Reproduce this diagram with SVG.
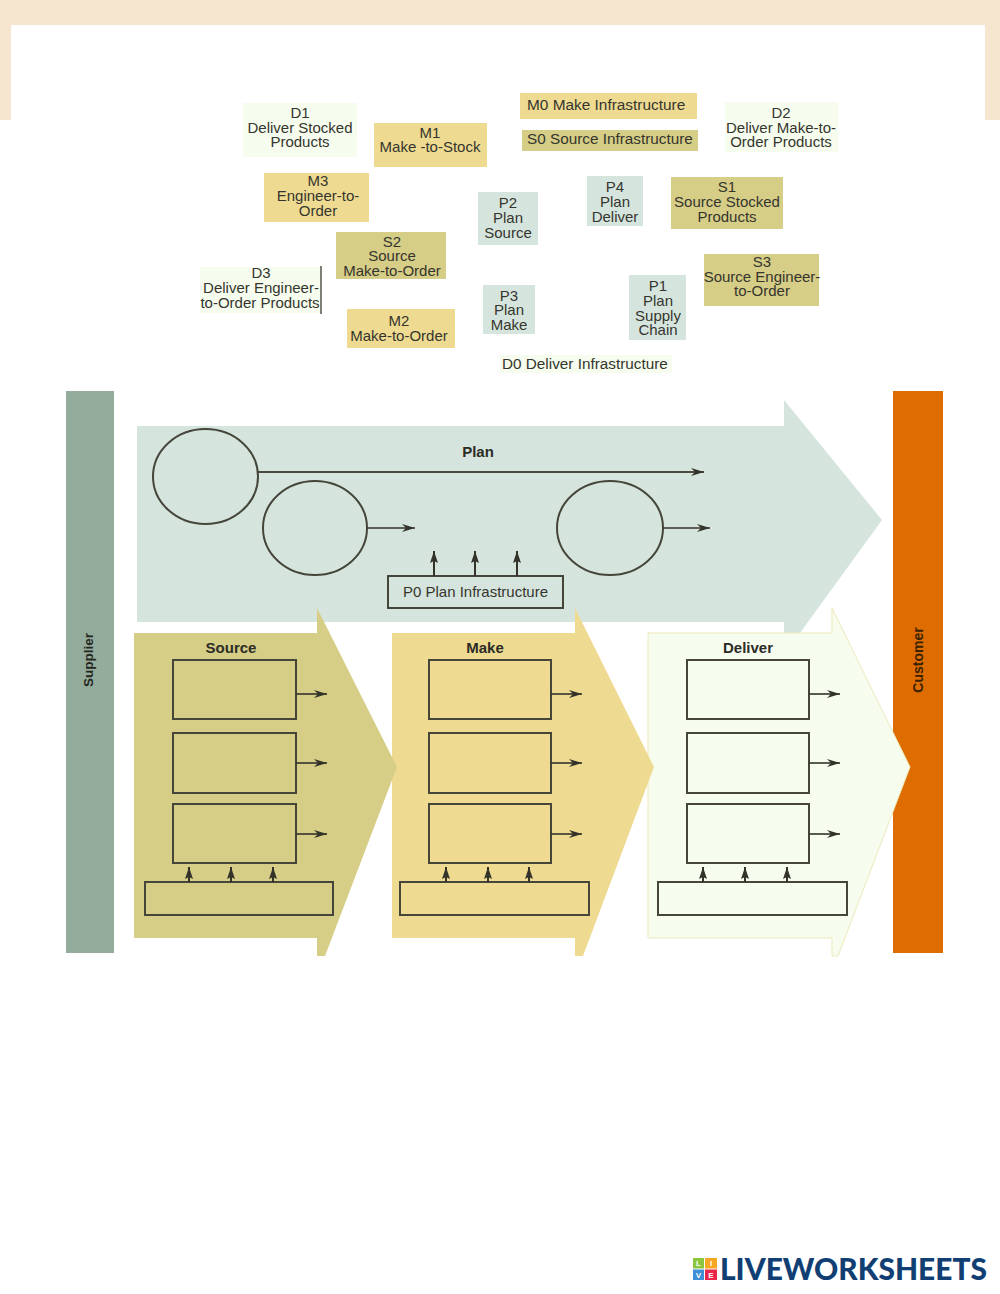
<svg xmlns="http://www.w3.org/2000/svg" width="1000" height="1294" viewBox="0 0 1000 1294">
<defs>
<marker id="ah" markerUnits="userSpaceOnUse" markerWidth="14" markerHeight="10" refX="13" refY="5" orient="auto"><path d="M0,1 L13,5 L0,9 L4,5 Z" fill="#33332a"/></marker>
<marker id="au" markerUnits="userSpaceOnUse" markerWidth="13" markerHeight="10" refX="12" refY="5" orient="auto"><path d="M0,1 L12,5 L0,9 L2,5 Z" fill="#33332a"/></marker>
</defs>
<style>
text{font-family:"Liberation Sans",Arial,sans-serif;fill:#35352e}
.t{font-size:15px;text-anchor:middle}
.l{font-size:15.300px}
.h{font-size:15px;font-weight:bold;text-anchor:middle;fill:#2c2c26}
.v{font-weight:bold;text-anchor:middle}
.src{fill:#d6cd86}.mk{fill:#eedb91}.dl{fill:#f6fdee}.pl{fill:#d5e5de}
.box{stroke:#45453a;stroke-width:2}
.cn{stroke:#33332a;stroke-width:1.600;fill:none}
.ar{marker-end:url(#ah)}
.up{marker-end:url(#au);stroke-width:2}
</style>
<rect width="1000" height="1294" fill="#fff"/>
<g id="page-frame">
<rect x="0" y="0" width="1000" height="25" fill="#f6e5cf"/>
<rect x="0" y="25" width="11" height="95" fill="#f6e5cf"/>
<rect x="985" y="25" width="15" height="95" fill="#f6e5cf"/>
</g>

<g id="D1"><rect class="dl" x="243" y="103" width="114" height="54"/><text class="t"><tspan x="300" y="118">D1</tspan><tspan x="300" y="133">Deliver Stocked</tspan><tspan x="300" y="147">Products</tspan></text></g>
<g id="M1"><rect class="mk" x="374" y="123" width="113" height="44"/><text class="t"><tspan x="430" y="138">M1</tspan><tspan x="430" y="152">Make -to-Stock</tspan></text></g>
<g id="M0"><rect class="mk" x="520" y="93" width="177" height="26"/><text class="l" x="527" y="110" style="font-size:15.400px">M0 Make Infrastructure</text></g>
<g id="S0"><rect class="src" x="522" y="130" width="176" height="21"/><text class="l" x="527" y="144">S0 Source Infrastructure</text></g>
<g id="D2"><rect class="dl" x="725" y="102" width="113" height="50"/><text class="t"><tspan x="781" y="118">D2</tspan><tspan x="781" y="133">Deliver Make-to-</tspan><tspan x="781" y="147">Order Products</tspan></text></g>
<g id="M3"><rect class="mk" x="264" y="173" width="105" height="49"/><text class="t"><tspan x="318" y="186">M3</tspan><tspan x="318" y="201">Engineer-to-</tspan><tspan x="318" y="216">Order</tspan></text></g>
<g id="P2"><rect class="pl" x="478" y="192" width="60" height="53"/><text class="t"><tspan x="508" y="208">P2</tspan><tspan x="508" y="223">Plan</tspan><tspan x="508" y="238">Source</tspan></text></g>
<g id="P4"><rect class="pl" x="587" y="176" width="56" height="50"/><text class="t"><tspan x="615" y="192">P4</tspan><tspan x="615" y="207">Plan</tspan><tspan x="615" y="222">Deliver</tspan></text></g>
<g id="S1"><rect class="src" x="671" y="177" width="112" height="52"/><text class="t"><tspan x="727" y="192">S1</tspan><tspan x="727" y="207">Source Stocked</tspan><tspan x="727" y="222">Products</tspan></text></g>
<g id="S2"><rect class="src" x="336" y="232" width="110" height="47"/><text class="t"><tspan x="392" y="247">S2</tspan><tspan x="392" y="261">Source</tspan><tspan x="392" y="276">Make-to-Order</tspan></text></g>
<g id="S3"><rect class="src" x="704" y="254" width="115" height="52"/><text class="t"><tspan x="762" y="267">S3</tspan><tspan x="762" y="282">Source Engineer-</tspan><tspan x="762" y="296">to-Order</tspan></text></g>
<g id="D3"><rect class="dl" x="200" y="267" width="120" height="46"/><path d="M321 266V314" stroke="#55554a" stroke-width="1.500"/><text class="t"><tspan x="261" y="278">D3</tspan><tspan x="261" y="293">Deliver Engineer-</tspan><tspan x="260" y="308">to-Order Products</tspan></text></g>
<g id="P3"><rect class="pl" x="483" y="285" width="52" height="49"/><text class="t"><tspan x="509" y="301">P3</tspan><tspan x="509" y="315">Plan</tspan><tspan x="509" y="330">Make</tspan></text></g>
<g id="P1"><rect class="pl" x="629" y="275" width="57" height="65"/><text class="t"><tspan x="658" y="291">P1</tspan><tspan x="658" y="306">Plan</tspan><tspan x="658" y="321">Supply</tspan><tspan x="658" y="335">Chain</tspan></text></g>
<g id="M2"><rect class="mk" x="347" y="309" width="108" height="39"/><text class="t"><tspan x="399" y="326">M2</tspan><tspan x="399" y="341">Make-to-Order</tspan></text></g>
<g id="D0"><rect class="dl" x="500" y="355" width="172" height="18"/><text class="l" x="502" y="369">D0 Deliver Infrastructure</text></g>

<g id="Supplier"><rect x="66" y="391" width="48" height="562" fill="#93ac9c"/><text class="v" transform="translate(93 660) rotate(-90)" style="font-size:13.500px;fill:#26261f">Supplier</text></g>
<g id="Customer"><rect x="893" y="391" width="50" height="562" fill="#de6c00"/><text class="v" transform="translate(923 660) rotate(-90)" style="font-size:14px;fill:#3a2200">Customer</text></g>

<g id="Plan"><path class="pl" d="M137 426H784V400L882 520L784 655V622H137Z"/><text class="h" x="478" y="457">Plan</text></g>
<g id="P0-Plan-Infrastructure"><rect x="388" y="576" width="175" height="32" fill="none" class="box"/><text class="t" x="475.500" y="597">P0 Plan Infrastructure</text></g>
<g id="plan-ellipse-1"><ellipse cx="205.500" cy="476.500" rx="52.500" ry="47.500" fill="none" class="box"/></g>
<g id="plan-ellipse-2"><ellipse cx="315" cy="528" rx="52" ry="47" fill="none" class="box"/></g>
<g id="plan-ellipse-3"><ellipse cx="610" cy="528" rx="53" ry="47" fill="none" class="box"/></g>

<g id="Deliver"><path class="dl" d="M648 633H832V608L910 767L838 956H832V938H648Z" stroke="#eee9bb" stroke-width="1"/><text class="h" x="748" y="653">Deliver</text></g>
<g id="Make"><path class="mk" d="M392 633H575V608L654 767L583 956H575V938H392Z"/><text class="h" x="485" y="653">Make</text></g>
<g id="Source"><path class="src" d="M134 633H317V608L397 767L325 956H317V938H134Z"/><text class="h" x="231" y="653">Source</text></g>

<g id="source-boxes" fill="none">
<rect class="box" x="173" y="660" width="123" height="59"/><rect class="box" x="173" y="733" width="123" height="60"/><rect class="box" x="173" y="804" width="123" height="59"/><rect class="box" x="145" y="882" width="188" height="33"/>
</g>
<g id="make-boxes" fill="none">
<rect class="box" x="429" y="660" width="122" height="59"/><rect class="box" x="429" y="733" width="122" height="60"/><rect class="box" x="429" y="804" width="122" height="59"/><rect class="box" x="400" y="882" width="189" height="33"/>
</g>
<g id="deliver-boxes" fill="none">
<rect class="box" x="687" y="660" width="122" height="59"/><rect class="box" x="687" y="733" width="122" height="60"/><rect class="box" x="687" y="804" width="122" height="59"/><rect class="box" x="658" y="882" width="189" height="33"/>
</g>

<g id="connectors">
<path class="cn ar" d="M258 472H704" style="stroke-width:2;stroke:#4a4a3e"/>
<path class="cn ar" d="M367 528H415"/>
<path class="cn ar" d="M663 528H710"/>
<path class="cn up" d="M434 576V551"/><path class="cn up" d="M475 576V551"/><path class="cn up" d="M517 576V551"/>
<path class="cn ar" d="M296 694H327"/><path class="cn ar" d="M296 763H327"/><path class="cn ar" d="M296 834H327"/>
<path class="cn ar" d="M551 694H582"/><path class="cn ar" d="M551 763H582"/><path class="cn ar" d="M551 834H582"/>
<path class="cn ar" d="M809 694H840"/><path class="cn ar" d="M809 763H840"/><path class="cn ar" d="M809 834H840"/>
<path class="cn up" d="M189 882V867"/><path class="cn up" d="M231 882V867"/><path class="cn up" d="M273 882V867"/>
<path class="cn up" d="M446 882V867"/><path class="cn up" d="M488 882V867"/><path class="cn up" d="M529 882V867"/>
<path class="cn up" d="M703 882V867"/><path class="cn up" d="M745 882V867"/><path class="cn up" d="M787 882V867"/>
</g>

<g id="liveworksheets-logo">
<rect x="693" y="1258" width="11" height="10.500" fill="#8cc63f"/>
<rect x="705" y="1258" width="12" height="10.500" fill="#f5a623"/>
<rect x="693" y="1269.500" width="11" height="10.500" fill="#3d8fd6"/>
<rect x="705" y="1269.500" width="12" height="10.500" fill="#e8274b"/>
<g text-anchor="middle" font-weight="bold" style="font-size:8px">
<text x="698.500" y="1266" style="fill:#fff">L</text><text x="711" y="1266" style="fill:#fff">I</text><text x="698.500" y="1278" style="fill:#fff">V</text><text x="711" y="1278" style="fill:#fff">E</text>
</g>
<text x="720" y="1280" textLength="267" lengthAdjust="spacingAndGlyphs" style="font-family:Lato,'Liberation Sans',sans-serif;font-size:30px;font-weight:900;fill:#123f73">LIVEWORKSHEETS</text>
</g>
</svg>
